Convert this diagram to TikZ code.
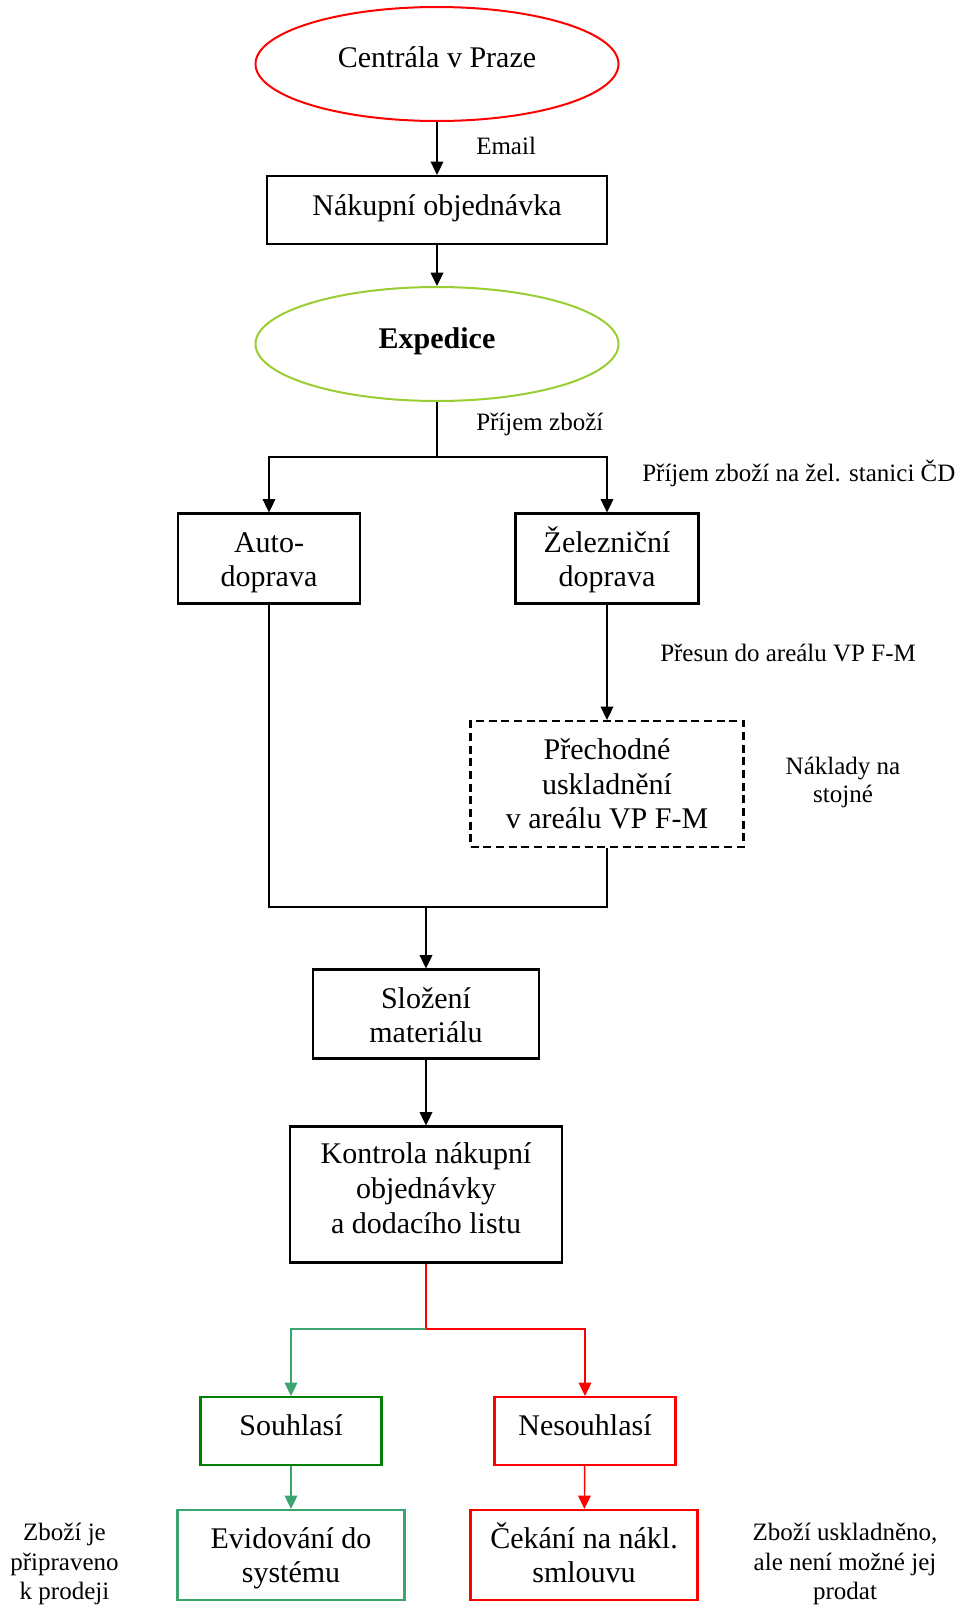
\documentclass[tikz,border=0pt]{standalone}
\usepackage{fontspec}
\setmainfont{Liberation Serif}
\usetikzlibrary{shapes.geometric, arrows.meta}

\definecolor{hqred}{RGB}{255,0,0}
\definecolor{expgreen}{RGB}{154,205,50}
\definecolor{okgreen}{RGB}{0,128,0}
\definecolor{seagreen}{RGB}{60,164,110}

\begin{document}
\begin{tikzpicture}[x=0.75pt, y=-0.75pt,
  line/.style={line width=1.1pt},
  conn/.style={line, -{Triangle[length=10pt,width=9.5pt]}},
  boxtext/.style={font=\fontsize{22.5}{26}\selectfont, align=center, inner sep=0pt},
  % last baseline sits #1/2 below the node centre
  base/.style={text height=#1, text depth=0pt},
  sbox/.style 2 args={rectangle, draw, line width=1.6pt, boxtext,
    minimum width=#1*0.75pt, minimum height=#2*0.75pt},
  oval/.style={ellipse, draw=#1, line width=1.5pt, boxtext,
    minimum width=363*0.75pt, minimum height=114*0.75pt},
  note/.style={font=\fontsize{18.75}{21}\selectfont, align=center, inner sep=0pt},
]
\useasboundingbox (0,0) rectangle (959,1606);

% main flow
\node[oval=hqred, base=5.7pt] (cen) at (437,64) {Centrála v Praze};
\node[sbox={340}{68}, base=8.6pt] (nak) at (437,210) {Nákupní objednávka};
\node[oval=expgreen, base=6.4pt] (exp) at (437,344) {\bfseries Expedice};
\node[sbox={182}{90}, base=42.3pt] (auto) at (269,558.5) {Auto-\\doprava};
\node[sbox={183}{90}, base=42.3pt] (zel) at (607,558.5) {Železniční\\doprava};
\node[sbox={273}{126}, dash pattern=on 6pt off 3.5pt] (pre) at (607,784)
  {Přechodné\\uskladnění\\v areálu VP F-M};
\node[sbox={226}{89}, base=43pt] (slo) at (426,1014) {Složení\\materiálu};
\node[sbox={272}{136}, base=58pt] (kon) at (426,1194.5) {Kontrola nákupní\\objednávky\\a dodacího listu};
\node[sbox={181}{68}, draw=okgreen, base=7pt] (sou) at (291,1431) {Souhlasí};
\node[sbox={181}{68}, draw=hqred, base=7pt] (nes) at (585,1431) {Nesouhlasí};
\node[sbox={227}{90}, draw=seagreen, base=41.6pt] (evi) at (291,1555) {Evidování do\\systému};
\node[sbox={227}{90}, draw=hqred, base=41.6pt] (cek) at (584,1555) {Čekání na nákl.\\smlouvu};

% side notes
\node[note, anchor=west] (email) at (476,146) {Email};
\node[note, anchor=west] (prij) at (476,424) {Příjem zboží};
\node[note, anchor=west] (prijcd) at (642,473) {Příjem zboží na žel. stanici ČD};
\node[note, anchor=west] (presun) at (660,653) {Přesun do areálu VP F-M};
\node[note] (naklady) at (843,782) {Náklady na\\stojné};
\node[note, font=\fontsize{18.75}{22}\selectfont] (pripr) at (64.5,1564) {Zboží je\\připraveno\\k prodeji};
\node[note, font=\fontsize{18.75}{22}\selectfont] (uskl) at (845,1564) {Zboží uskladněno,\\ale není možné jej\\prodat};

% connectors
\draw[conn] (cen) -- (nak);
\draw[conn] (nak) -- (exp);
\coordinate (j1) at (437,457);
\draw[line] (exp.south) -- (j1);
\draw[conn] (j1) -| (auto.north);
\draw[conn] (j1) -| (zel.north);
\draw[conn] (zel) -- (pre);
\coordinate (j2) at (426,907);
\draw[line] (auto.south) |- (j2);
\draw[line] (pre.south) |- (j2);
\draw[conn] (j2) -- (slo.north);
\draw[conn] (slo) -- (kon);
\coordinate (j3) at (426,1329);
\draw[line, hqred] (kon.south) -- (j3);
\draw[conn, hqred] (j3) -| (nes.north);
\draw[conn, seagreen] (j3) -| (sou.north);
\draw[conn, seagreen] (sou) -- (evi);
\draw[conn, hqred] (nes) -- (cek);
\end{tikzpicture}
\end{document}
